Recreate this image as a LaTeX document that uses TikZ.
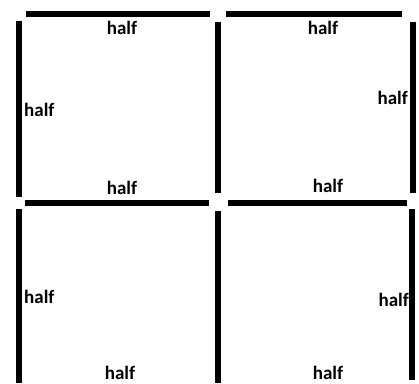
\documentclass[tikz,border=0pt]{standalone}
\usepackage{fontspec}
\setmainfont{Carlito}
\usetikzlibrary{positioning}

\begin{document}
\begin{tikzpicture}[
    x=1pt, y=-1pt,
    bar/.style={line width=6pt, black},
    lbl/.style={font=\fontsize{19}{22}\selectfont\bfseries, inner sep=0pt}
  ]
  \useasboundingbox (0,0) rectangle (419,383);

  % ===== horizontal bars =====
  \draw[bar] (26,14)  -- (210,14);
  \draw[bar] (226,14) -- (402,14);
  \draw[bar] (25,203) -- (209,203);
  \draw[bar] (228,203) -- (407,203);

  % ===== vertical bars =====
  \draw[bar] (19,21)   -- (19,197);
  \draw[bar] (218,22)  -- (218,193);
  \draw[bar] (413,22)  -- (413,193);
  \draw[bar] (19,209)  -- (19,383);
  \draw[bar] (218,211) -- (218,383);
  \draw[bar] (412,209) -- (412,380);

  % ===== upper left square =====
  \node[lbl] (ultop)  at (122,28)  {half};
  \node[lbl, anchor=west] (ulleft) at (24,110) {half};
  \node[lbl] (ulbot)  at (122,188) {half};

  % ===== upper right square =====
  \node[lbl] (urtop)  at (323,28)  {half};
  \node[lbl, anchor=east] (urright) at (408,98) {half};
  \node[lbl] (urbot)  at (328,186) {half};

  % ===== lower left square =====
  \node[lbl, anchor=west] (llleft) at (24,297) {half};
  \node[lbl] (llbot)  at (120,373) {half};

  % ===== lower right square =====
  \node[lbl, anchor=east] (lrright) at (409,300) {half};
  \node[lbl] (lrbot)  at (328,373) {half};
\end{tikzpicture}
\end{document}
